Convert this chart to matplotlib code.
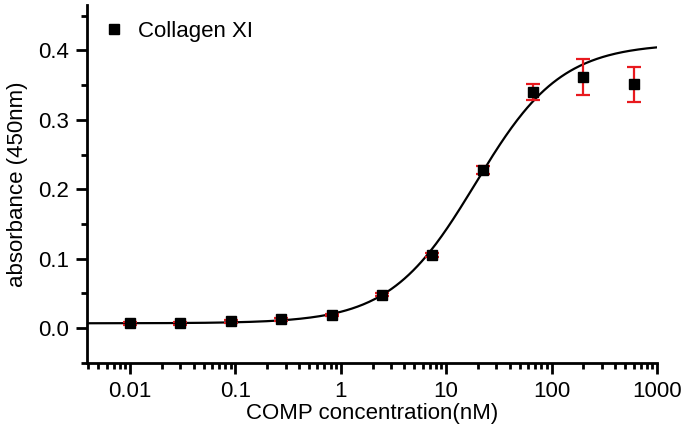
import numpy as np
import matplotlib
matplotlib.use('Agg')
import matplotlib.pyplot as plt
from matplotlib.ticker import LogLocator, MultipleLocator, FixedLocator, FixedFormatter

conc = [0.01, 0.03, 0.09, 0.27, 0.82, 2.45, 7.4, 22.5, 67, 200, 600]
absorb = [0.007, 0.007, 0.010, 0.013, 0.019, 0.048, 0.105, 0.228, 0.340, 0.362, 0.351]
err = [0.002, 0.002, 0.002, 0.002, 0.002, 0.002, 0.003, 0.006, 0.011, 0.026, 0.025]

# logistic fit parameters (estimated from the curve)
fit_bottom = 0.007
fit_top = 0.410
fit_ec50 = 19.0
fit_hill = 1.07

xticks = [0.01, 0.1, 1, 10, 100, 1000]
xticklabels = ['0.01', '0.1', '1', '10', '100', '1000']

plt.rcParams['font.family'] = ['Liberation Sans', 'DejaVu Sans']

fig = plt.figure(figsize=(6.85, 4.32), dpi=100)
ax = fig.add_axes([0.127, 0.160, 0.832, 0.828])

xfit = np.logspace(np.log10(0.004), 3, 400)
yfit = fit_bottom + (fit_top - fit_bottom) / (1 + (fit_ec50 / xfit) ** fit_hill)
ax.plot(xfit, yfit, color='black', lw=1.6, zorder=2)

ax.errorbar(conc, absorb, yerr=err, fmt='none', ecolor='#e8191e', elinewidth=1.6,
            capsize=5, capthick=1.6, zorder=3)
ax.plot(conc, absorb, 's', color='black', ms=6.5, ls='none', zorder=4, label='Collagen XI')

ax.set_xscale('log')
ax.set_xlim(0.0039, 1000)
ax.set_ylim(-0.05, 0.465)

ax.xaxis.set_major_locator(FixedLocator(xticks))
ax.xaxis.set_major_formatter(FixedFormatter(xticklabels))
ax.xaxis.set_minor_locator(LogLocator(base=10, subs=np.arange(2, 10), numticks=20))
ax.xaxis.set_minor_formatter(FixedFormatter([]))
ax.yaxis.set_major_locator(FixedLocator([0.0, 0.1, 0.2, 0.3, 0.4]))
ax.yaxis.set_major_formatter(FixedFormatter(['0.0', '0.1', '0.2', '0.3', '0.4']))
ax.yaxis.set_minor_locator(MultipleLocator(0.05))

for s in ['top', 'right']:
    ax.spines[s].set_visible(False)
for s in ['left', 'bottom']:
    ax.spines[s].set_linewidth(2)

ax.tick_params(which='major', direction='out', length=8, width=2, labelsize=16, pad=5)
ax.tick_params(which='minor', direction='out', length=4.5, width=2)

ax.set_xlabel('COMP concentration(nM)', fontsize=16, labelpad=1)
ax.set_ylabel('absorbance (450nm)', fontsize=16, labelpad=7)

ax.legend(loc='upper left', frameon=False, fontsize=16, handlelength=1.0,
          handletextpad=0.6, borderaxespad=0.3, bbox_to_anchor=(0.0, 1.0))

fig.savefig('out.png', dpi=100)
